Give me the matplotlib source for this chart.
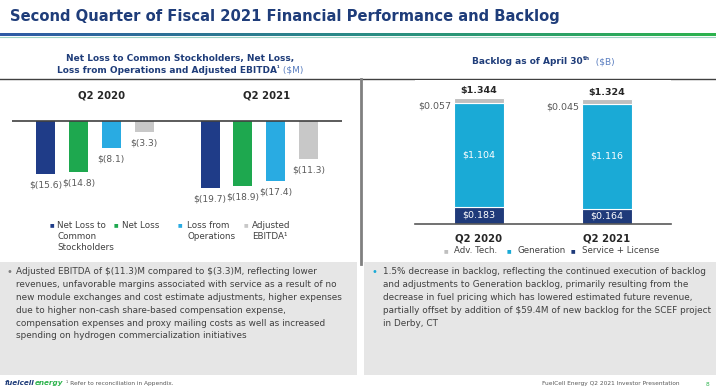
import matplotlib.pyplot as plt
import numpy as np
from matplotlib.colors import LinearSegmentedColormap

plt.rcParams['font.family'] = ['DejaVu Sans']
plt.rcParams['text.parse_math'] = False

# ---- data ----
loss_groups = ['Q2 2020', 'Q2 2021']
loss_series = ['Net Loss to\nCommon\nStockholders', 'Net Loss', 'Loss from\nOperations', 'Adjusted\nEBITDA\u00b9']
loss_q2_2020 = [-15.6, -14.8, -8.1, -3.3]
loss_q2_2021 = [-19.7, -18.9, -17.4, -11.3]

backlog_periods = ['Q2 2020', 'Q2 2021']
backlog_service = [0.183, 0.164]
backlog_generation = [1.104, 1.116]
backlog_advtech = [0.057, 0.045]
backlog_total = [1.344, 1.324]
backlog_legend = ['Adv. Tech.', 'Generation', 'Service + License']

left_text = [
    "Adjusted EBITDA of $(11.3)M compared to $(3.3)M, reflecting lower",
    "revenues, unfavorable margins associated with service as a result of no",
    "new module exchanges and cost estimate adjustments, higher expenses",
    "due to higher non-cash share-based compensation expense,",
    "compensation expenses and proxy mailing costs as well as increased",
    "spending on hydrogen commercialization initiatives",
]
right_text = [
    "1.5% decrease in backlog, reflecting the continued execution of backlog",
    "and adjustments to Generation backlog, primarily resulting from the",
    "decrease in fuel pricing which has lowered estimated future revenue,",
    "partially offset by addition of $59.4M of new backlog for the SCEF project",
    "in Derby, CT",
]

NAVY = '#1f3c88'
GREEN = '#1ea84f'
LBLUE = '#29abe2'
GRAY = '#c8c8c8'
CYAN = '#1aaad6'
TXT = '#404040'
loss_colors = [NAVY, GREEN, LBLUE, GRAY]

W, H = 716, 391
fig = plt.figure(figsize=(W / 100, H / 100), dpi=100)
fig.patch.set_facecolor('white')


def fx(x):
    return x / W


def fy(y):
    return 1 - y / H


def rect(x0, y0, x1, y1):
    return [fx(x0), fy(y1), (x1 - x0) / W, (y1 - y0) / H]


def ptext(x, y, s, **kw):
    kw.setdefault('va', 'center')
    return fig.text(fx(x), fy(y), s, **kw)


renderer = fig.canvas.get_renderer()


def seq(parts, x, y, ha='center'):
    # place several styled pieces one after another on one line
    items = []
    for s, kw, dy in parts:
        t = fig.text(0, 0, s, va='baseline', **kw)
        items.append((t, t.get_window_extent(renderer).width, dy))
    total = sum(w for _, w, _ in items)
    cx = x - total / 2 if ha == 'center' else (x - total if ha == 'right' else x)
    for t, w, dy in items:
        t.set_position((fx(cx), fy(y + dy)))
        cx += w


# ---- background pieces ----
bg = fig.add_axes([0, 0, 1, 1], zorder=-5)
bg.set_xlim(0, W)
bg.set_ylim(H, 0)
bg.axis('off')
grad = np.linspace(0, 1, 256).reshape(1, -1)
cm = LinearSegmentedColormap.from_list('bar', ['#2f5aa6', '#2a8c86', '#2db34d'])
bg.imshow(grad, cmap=cm, extent=(0, W, 36, 33), aspect='auto')
bg.plot([0, W], [37, 37], color='#9fd3c4', lw=0.8)
bg.fill_between([0, 357], 262, 375, color='#e6e6e6', lw=0)
bg.fill_between([364, W], 262, 375, color='#e6e6e6', lw=0)
bg.plot([0, W], [79, 79], color='#404040', lw=1.0)
bg.plot([361, 361], [79, 264], color='#808080', lw=2.0)

# ---- title ----
ptext(10, 16, 'Second Quarter of Fiscal 2021 Financial Performance and Backlog',
      fontsize=10.6, fontweight='bold', color='#1f3d7a')

# ---- left header ----
hb = dict(fontsize=6.5, fontweight='bold', color='#1f3d7a')
hn = dict(fontsize=6.5, color='#5b7fc0')
seq([('Net Loss to Common Stockholders, Net Loss,', hb, 0)], 180, 61)
seq([('Loss from Operations and Adjusted EBITDA', hb, 0),
     ('\u00b9', dict(fontsize=4.5, fontweight='bold', color='#1f3d7a'), -3),
     (' ($M)', hn, 0)], 180, 73)

# ---- right header ----
seq([('Backlog as of April 30', hb, 0),
     ('th', dict(fontsize=4.2, fontweight='bold', color='#1f3d7a'), -3.5),
     ('  ($B)', hn, 0)], 543, 64)

# ---- left chart ----
axl = fig.add_axes(rect(12, 110, 342, 215))
step = 32.9
pos20 = np.arange(4)
pos21 = np.arange(4) + 5
axl.set_xlim(-(45.5 - 12) / step, (342 - 45.5) / step)
ppu = 3.45
axl.set_ylim(-(215 - 120.5) / ppu, (120.5 - 110) / ppu)
axl.axis('off')
bw = 19 / step
for pos, vals in [(pos20, loss_q2_2020), (pos21, loss_q2_2021)]:
    axl.bar(pos, vals, width=bw, color=loss_colors, zorder=2)
    for p, v in zip(pos, vals):
        axl.annotate('$(%.1f)' % abs(v), (p, v), xytext=(0, -11), textcoords='offset pixels',
                     ha='center', va='center', fontsize=6.6, color='#595959')
axl.axhline(0, color='#404040', lw=1.2, zorder=3)

ptext(102, 96, loss_groups[0], ha='center', fontsize=7.3, fontweight='bold', color='#262626')
ptext(267, 96, loss_groups[1], ha='center', fontsize=7.3, fontweight='bold', color='#262626')

for mx, tx, lab, c in zip([52, 116, 180, 246], [57, 122, 187, 252], loss_series, loss_colors):
    ptext(mx, 225, '\u25a0', ha='center', fontsize=3.5, color=c)
    for i, line in enumerate(lab.split('\n')):
        ptext(tx, 226 + i * 10.5, line, ha='left', fontsize=6.3, color=TXT)

# ---- right chart ----
axr = fig.add_axes(rect(415, 80, 671, 224))
axr.set_xlim(-0.5, 1.5)
bppu = 94
axr.set_ylim(0, (224 - 80) / bppu)
for s in axr.spines.values():
    s.set_visible(False)
axr.set_yticks([])
x = np.arange(2)
bwr = 50 / 128
axr.bar(x, backlog_service, width=bwr, color='#1f3a7a', edgecolor='white', lw=0.8, zorder=2)
axr.bar(x, backlog_generation, bottom=backlog_service, width=bwr, color=CYAN,
        edgecolor='white', lw=0.8, zorder=2)
gen_top = np.array(backlog_service) + np.array(backlog_generation)
axr.bar(x, backlog_advtech, bottom=gen_top, width=bwr, color='#bfbfbf',
        edgecolor='white', lw=0.8, zorder=2)
axr.axhline(0, color='#595959', lw=1.2, clip_on=False, zorder=3)
for i in range(2):
    axr.text(x[i], backlog_service[i] / 2, '$%.3f' % backlog_service[i], ha='center', va='center',
             fontsize=6.8, color='white')
    axr.text(x[i], backlog_service[i] + backlog_generation[i] / 2, '$%.3f' % backlog_generation[i],
             ha='center', va='center', fontsize=6.8, color='white')
    axr.annotate('$%.3f' % backlog_total[i], (x[i], backlog_total[i]), xytext=(0, 7),
                 textcoords='offset pixels', ha='center', va='center', fontsize=6.8,
                 fontweight='bold', color='#262626')
    axr.annotate('$%.3f' % backlog_advtech[i], (x[i] - bwr / 2, gen_top[i]), xytext=(-3, -3),
                 textcoords='offset pixels', ha='right', va='center', fontsize=6.8, color='#595959')
axr.set_xticks(x, backlog_periods, fontsize=7.3, fontweight='bold', color='#262626')
axr.tick_params(axis='x', length=0, pad=7)

for mx, tx, lab, c in zip([446, 509, 573], [454, 517, 582], backlog_legend,
                          ['#bfbfbf', CYAN, '#1f3a7a']):
    ptext(mx, 251, '\u25a0', ha='center', fontsize=3.5, color=c)
    ptext(tx, 251, lab, ha='left', fontsize=6.2, color=TXT)

# ---- bullet text boxes ----
ptext(6, 272, '\u2022', fontsize=7, color='#7f7f7f')
for i, line in enumerate(left_text):
    ptext(16, 272 + i * 12.8, line, ha='left', fontsize=6.4, color=TXT)
ptext(372, 272, '\u2022', fontsize=7, color=CYAN)
for i, line in enumerate(right_text):
    ptext(383, 272 + i * 12.8, line, ha='left', fontsize=6.4, color=TXT)

# ---- footer ----
seq([('fuelcell', dict(fontsize=5.2, fontweight='bold', style='italic', color='#1f3d7a'), 0),
     ('energy', dict(fontsize=5.2, fontweight='bold', style='italic', color='#2db34d'), 0)],
    5, 385, ha='left')
ptext(66, 383, '\u00b9 Refer to reconciliation in Appendix.', ha='left', fontsize=4.2, color='#595959')
ptext(680, 384, 'FuelCell Energy Q2 2021 Investor Presentation', ha='right', fontsize=4.2, color='#595959')
ptext(707, 384, '8', ha='center', fontsize=4.2, color='#2db34d')

fig.savefig('out.png', dpi=100)
